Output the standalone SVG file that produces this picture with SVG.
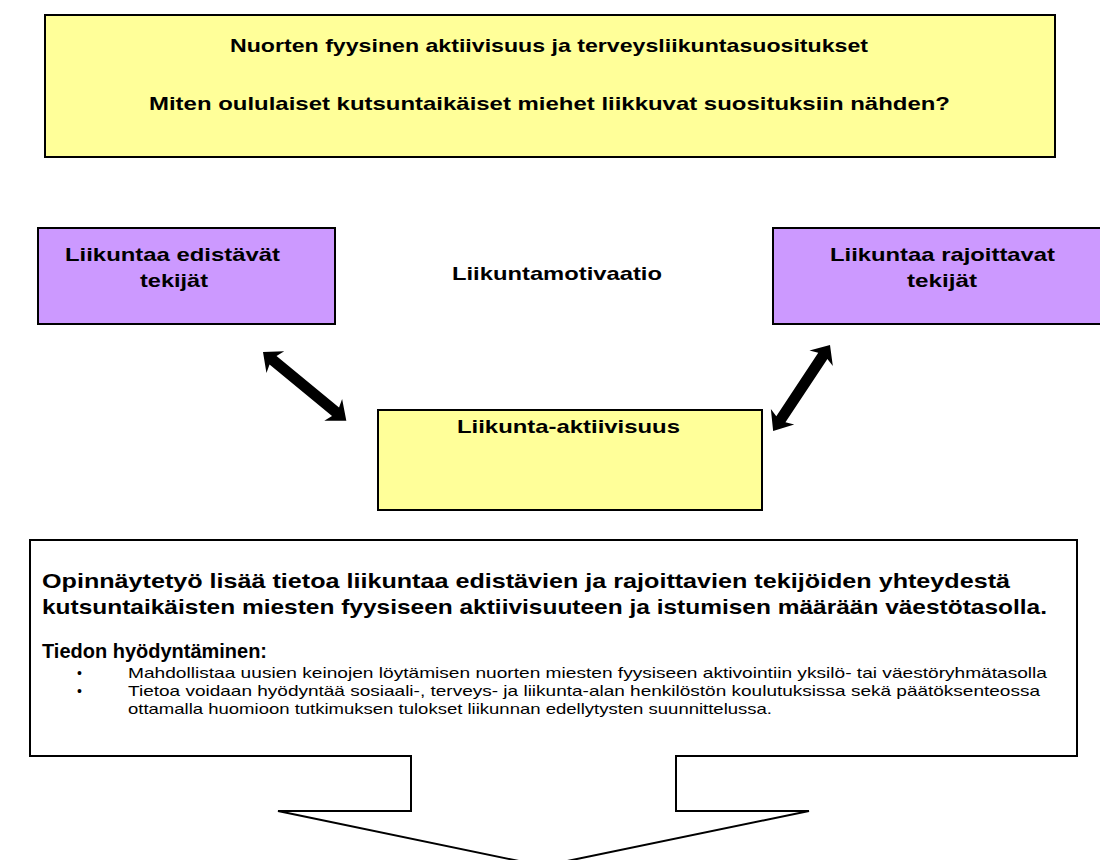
<svg xmlns="http://www.w3.org/2000/svg" width="1100" height="860" viewBox="0 0 1100 860">
<style>
.b{stroke:#000;stroke-width:2}
.y{fill:#ffff99}
.p{fill:#cc99ff}
.t{font-family:"Liberation Sans",Arial,sans-serif;font-weight:bold;fill:#000}
.n{font-family:"Liberation Sans",Arial,sans-serif;fill:#000}
</style>
<rect width="1100" height="860" fill="#fff"/>
<g id="top">
<rect class="b y" x="45" y="15" width="1010" height="142"/>
<text class="t" x="230" y="52" font-size="19" textLength="638" lengthAdjust="spacingAndGlyphs">Nuorten fyysinen aktiivisuus ja terveysliikuntasuositukset</text>
<text class="t" x="149" y="110" font-size="19" textLength="801" lengthAdjust="spacingAndGlyphs">Miten oululaiset kutsuntaikäiset miehet liikkuvat suosituksiin nähden?</text>
</g>
<g id="promote">
<rect class="b p" x="38" y="228" width="297" height="96"/>
<text class="t" x="65" y="261" font-size="19" textLength="215" lengthAdjust="spacingAndGlyphs">Liikuntaa edistävät</text>
<text class="t" x="140" y="287" font-size="19" textLength="68" lengthAdjust="spacingAndGlyphs">tekijät</text>
</g>
<g id="motivation">
<text class="t" x="452" y="280" font-size="19" textLength="210" lengthAdjust="spacingAndGlyphs">Liikuntamotivaatio</text>
</g>
<g id="restrict">
<rect class="b p" x="773" y="228" width="340" height="96"/>
<text class="t" x="830" y="261" font-size="19" textLength="225" lengthAdjust="spacingAndGlyphs">Liikuntaa rajoittavat</text>
<text class="t" x="907" y="287" font-size="19" textLength="70" lengthAdjust="spacingAndGlyphs">tekijät</text>
</g>
<g id="activity">
<rect class="b y" x="378" y="410" width="384" height="100"/>
<text class="t" x="457" y="433" font-size="19" textLength="223" lengthAdjust="spacingAndGlyphs">Liikunta-aktiivisuus</text>
</g>
<g id="connectors">
<polygon fill="#000" transform="translate(263,352) rotate(39.5)" points="0,0 16,-14 13,-5.5 94,-5.5 91,-14 108,0 91,14 94,5.5 13,5.5 16,14"/>
<polygon fill="#000" transform="translate(830,345) rotate(123.5)" points="0,0 16,-14 13,-5.5 89,-5.5 86,-14 103,0 86,14 89,5.5 13,5.5 16,14"/>
</g>
<g id="summary">
<path class="b" fill="#fff" d="M30,540 H1077 V756 H676 V811 H809 L543,866 L278,811 H411 V756 H30 Z"/>
<text class="t" x="42" y="588" font-size="21" textLength="968" lengthAdjust="spacingAndGlyphs">Opinnäytetyö lisää tietoa liikuntaa edistävien ja rajoittavien tekijöiden yhteydestä</text>
<text class="t" x="42" y="614" font-size="21" textLength="1005" lengthAdjust="spacingAndGlyphs">kutsuntaikäisten miesten fyysiseen aktiivisuuteen ja istumisen määrään väestötasolla.</text>
<text class="t" x="42" y="658" font-size="21" textLength="225" lengthAdjust="spacingAndGlyphs">Tiedon hyödyntäminen:</text>
<text class="n" x="77" y="678" font-size="14">•</text>
<text class="n" x="128" y="678" font-size="14.5" textLength="919" lengthAdjust="spacingAndGlyphs">Mahdollistaa uusien keinojen löytämisen nuorten miesten fyysiseen aktivointiin yksilö- tai väestöryhmätasolla</text>
<text class="n" x="77" y="696" font-size="14">•</text>
<text class="n" x="128" y="696" font-size="14.5" textLength="912" lengthAdjust="spacingAndGlyphs">Tietoa voidaan hyödyntää sosiaali-, terveys- ja liikunta-alan henkilöstön koulutuksissa sekä päätöksenteossa</text>
<text class="n" x="128" y="714" font-size="14.5" textLength="644" lengthAdjust="spacingAndGlyphs">ottamalla huomioon tutkimuksen tulokset liikunnan edellytysten suunnittelussa.</text>
</g>
</svg>
